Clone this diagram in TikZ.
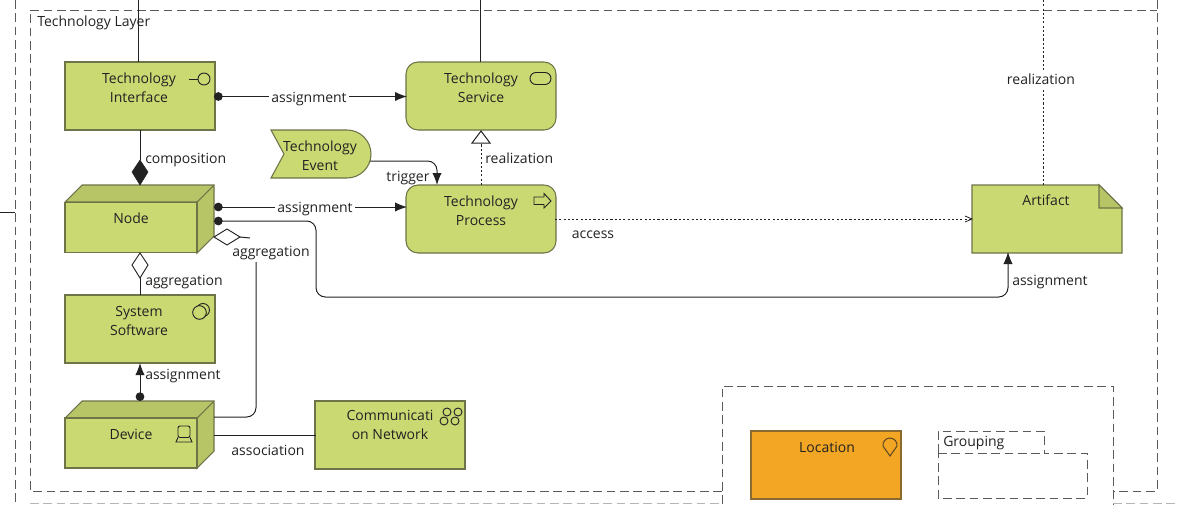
\documentclass[tikz,border=0pt]{standalone}
\usepackage{fontspec}
\setmainfont{Open Sans}
\usetikzlibrary{arrows.meta,calc}
\definecolor{tech}{HTML}{CBD973}
\definecolor{techd}{HTML}{B8C566}
\definecolor{edgeg}{HTML}{6E7348}
\definecolor{loc}{HTML}{F2A623}
\definecolor{locd}{HTML}{8A6A30}
\definecolor{ln}{HTML}{222222}
\definecolor{dsh}{HTML}{5A5A5A}
\tikzset{
 grp/.style={draw=dsh,line width=0.7pt,dash pattern=on 6.5pt off 3.5pt},
 elem/.style={draw=edgeg,fill=tech,line width=0.8pt,minimum width=112.5pt,minimum height=51pt,inner sep=0pt,outer sep=0pt},
 rnd/.style={elem,rounded corners=9pt},
 hit/.style={align=center,font=\fontsize{10.5}{14.2}\selectfont,text=ln,inner sep=0pt,anchor=north,yshift=-3pt},
 lab/.style={font=\fontsize{10.5}{12}\selectfont,text=ln,inner sep=1.5pt,yshift=-2.8pt},
 labw/.style={lab,fill=white},
 cn/.style={draw=ln,line width=0.75pt,rounded corners=7pt},
 dt/.style={draw=ln,line width=0.75pt,dash pattern=on 1.6pt off 1.6pt},
 ico/.style={draw=ln,line width=0.7pt},
 dotarrow/.style={arrows={{Circle[length=6.5pt]}-{Latex[length=9pt,width=7pt]}}},
 sblk/.style={arrows={-{Latex[length=9pt,width=7pt]}}},
}
\begin{document}
\begin{tikzpicture}[x=0.75pt,y=-0.75pt]
\useasboundingbox (0,0) rectangle (1178,504);
% group frames
\draw[grp] (15,0) -- (15,504);
\draw[grp] (1157,0) -- (1157,491) -- (1113,491);
\draw[grp] (722,491) -- (30,491) -- (30,10) -- (1157,10);
\draw[grp,draw=dsh!45] (30,503.5) -- (722,503.5);
\draw[grp,draw=dsh!45] (1113,503.5) -- (1178,503.5);
\draw[ln,line width=0.6pt] (0,212) -- (15,212);
\node[lab,anchor=west,inner sep=0pt,yshift=2pt] (tl) at (37,22) {Technology Layer};
% elements
\node[elem] (ti) at (140,96) {};
\node[hit] at (139,69) {Technology\\Interface};
\node[rnd] (ts) at (481,96) {};
\node[hit] at (481,69) {Technology\\Service};
\node[rnd] (tp) at (481,219) {};
\node[hit] at (481,192) {Technology\\Process};
\node[elem] (ss) at (140,329) {};
\node[hit] at (139,302) {System\\Software};
\node[elem] (cn) at (390,435) {};
\node[hit] at (390,406) {Communicati\\on Network};
% event
\draw[draw=edgeg,fill=tech,line width=0.8pt] (271,130) -- (347,130) arc[start angle=-90,end angle=90,x radius=24,y radius=24] -- (271,178) -- (284,154) -- cycle;
\node[hit] (tev) at (320,137) {Technology\\Event};
\coordinate (evr) at (370,161);
% node 3d
\draw[draw=edgeg,fill=techd,line width=0.8pt] (65,202) -- (82,185) -- (214,185) -- (214,236) -- (197,253) -- (197,202) -- cycle;
\node[elem,minimum width=99pt,minimum height=38pt] (nd) at (131,227.5) {};
\draw[edgeg,line width=0.8pt] (197,202) -- (214,185);
\node[hit] at (131,209) {Node};
% device 3d
\draw[draw=edgeg,fill=techd,line width=0.8pt] (65,418) -- (82,401) -- (214,401) -- (214,451) -- (197,468) -- (197,418) -- cycle;
\node[elem,minimum width=99pt,minimum height=37.5pt] (dv) at (131,443) {};
\draw[edgeg,line width=0.8pt] (197,418) -- (214,401);
\node[hit] at (131,425) {Device};
% artifact
\draw[draw=edgeg,fill=tech,line width=0.8pt] (972,185) -- (1099,185) -- (1122,208) -- (1122,253) -- (972,253) -- cycle;
\draw[draw=edgeg,fill=techd,line width=0.8pt] (1099,185) -- (1122,208) -- (1099,208) -- cycle;
\node[hit] (art) at (1046,191) {Artifact};
% connectors
\coordinate (topa) at (138,0);
\coordinate (topb) at (480,0);
\coordinate (topc) at (1043,0);
\draw[ln,line width=0.75pt] (topa) -- (138,62);
\draw[ln,line width=0.75pt] (topb) -- (480,62);
\draw[dt] (topc) -- (1043,185);
\node[labw] at (1041,76) {realization};
\draw[cn,dotarrow] (214,96.5) -- (407,96.5);
\node[labw] at (309,95) {assignment};
\draw[cn,dotarrow] (214,207) -- (407,207);
\node[labw] at (315,205.5) {assignment};
% composition
\draw[cn] (140,130) -- (140,160);
\draw[fill=ln,draw=ln] (140,160) -- (148,172) -- (140,185) -- (132,172) -- cycle;
\node[lab,anchor=west] at (143,156.5) {composition};
% trigger
\draw[cn,sblk] (evr) -- (437,161) -- (437,185);
\node[lab] at (408,174) {trigger};
% realization tech
\draw[dt] (481,185) -- (481,143);
\draw[fill=white,draw=ln,line width=0.75pt] (481,131) -- (490,143) -- (472,143) -- cycle;
\node[lab,anchor=west] at (483,155) {realization};
% access
\draw[dt] (555,219) -- (972,219);
\draw[ln,line width=0.6pt] (965,216) -- (972,219) -- (965,222);
\node[lab] at (593,231) {access};
% node to artifact
\draw[cn,dotarrow] (214,221) -- (316,221) -- (316,297) -- (1008,297) -- (1008,252);
\node[lab,anchor=west] at (1010,278) {assignment};
% aggregations
\draw[fill=white,draw=ln,line width=0.7pt] (214,237) -- (227,229) -- (240,237) -- (227,245) -- cycle;
\draw[cn] (240,237) -- (250,238);
\draw[cn] (214,417) -- (256,417) -- (256,262);
\node[lab] at (271,249) {aggregation};
\draw[cn] (140,295) -- (140,278);
\draw[fill=white,draw=ln,line width=0.7pt] (140,253) -- (148,265) -- (140,278) -- (132,265) -- cycle;
\node[lab,anchor=west] at (143,278) {aggregation};
% assignment dev->ss
\draw[ln,line width=0.75pt,dotarrow] (140,401) -- (140,363);
\node[lab,anchor=west] at (143,372) {assignment};
% association
\draw[cn] (214,435) -- (316,435);
\node[lab] at (268,447) {association};
% icons
\draw[ico] (189,79) -- (198,79); \draw[ico] (204,79) circle (6);
\draw[ico,rounded corners=4.5pt] (530,72.5) rectangle (551,84.5);
\draw[ico] (534,197) -- (544,197) -- (544,193.5) -- (551,201) -- (544,208) -- (544,204.5) -- (534,204.5) -- cycle;
\draw[ico] (203,310) circle (6.5); \draw[ico,fill=tech] (199.5,312.5) circle (6.8);
\draw[ico,rounded corners=1.5pt] (178,426) rectangle (190,437.5); \draw[ico] (178,437.5) -- (176,442) -- (192,442) -- (190,437.5);
\foreach \a/\b in {447/412,458/412,444/421,455/421} \draw[ico] (\a,\b) circle (4);
% location frame
\draw[grp] (722,504) -- (722,386) -- (1113,386) -- (1113,504);
\node[draw=locd,fill=loc,line width=0.8pt,minimum width=112.5pt,minimum height=51pt,inner sep=0pt] (lc) at (826,465) {};
\node[hit] at (827,438) {Location};
\draw[draw=locd!70!black,line width=0.8pt] (890,456) -- (883.1,446.2) arc[start angle=170,end angle=370,radius=7] -- cycle;
\draw[grp] (938,453) -- (938,431) -- (1044,431) -- (1044,453) -- (1087,453) -- (1087,498) -- (938,498) -- cycle;
\draw[grp] (938,453) -- (1044,453);
\node[lab,anchor=west,inner sep=0pt,yshift=2.8pt] (gp) at (943,443) {Grouping};
\end{tikzpicture}
\end{document}
